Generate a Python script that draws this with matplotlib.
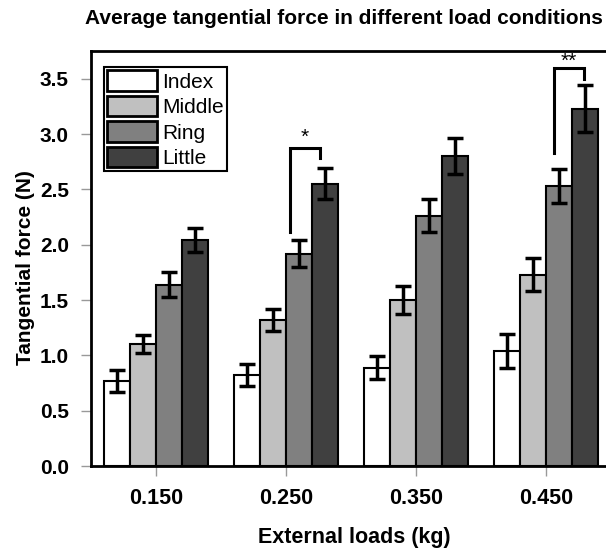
import matplotlib
matplotlib.use("Agg")
import matplotlib.pyplot as plt
import numpy as np

plt.rcParams['font.family'] = ['Liberation Sans', 'DejaVu Sans']

loads = ["0.150", "0.250", "0.350", "0.450"]
fingers = ["Index", "Middle", "Ring", "Little"]
means = {
    "Index":  [0.77, 0.82, 0.89, 1.04],
    "Middle": [1.10, 1.32, 1.50, 1.73],
    "Ring":   [1.64, 1.92, 2.26, 2.53],
    "Little": [2.04, 2.55, 2.80, 3.23],
}
errs = {
    "Index":  [0.10, 0.10, 0.10, 0.15],
    "Middle": [0.08, 0.10, 0.13, 0.15],
    "Ring":   [0.11, 0.12, 0.15, 0.15],
    "Little": [0.11, 0.14, 0.16, 0.21],
}
colors = ["#ffffff", "#c0c0c0", "#808080", "#404040"]
yticks = [0.0, 0.5, 1.0, 1.5, 2.0, 2.5, 3.0, 3.5]

fig = plt.figure(figsize=(6.06, 5.49), dpi=100)
ax = fig.add_axes([91/606, 1-466/549, 520/606, 415/549])

x = np.arange(len(loads))
w = 0.2
for i, f in enumerate(fingers):
    pos = x + (i - 1.5) * w
    ax.bar(pos, means[f], w, color=colors[i], edgecolor="black",
           linewidth=1.5, label=f, zorder=2)
    ax.errorbar(pos, means[f], yerr=errs[f], fmt="none", ecolor="black",
                elinewidth=2.5, capsize=5.5, capthick=2.5, zorder=3)

# significance brackets
def bracket(x1, x2, y_top, y1, y2, txt, ty):
    ax.plot([x1, x1, x2, x2], [y1, y_top, y_top, y2], color="black",
            lw=2.2, solid_joinstyle="miter", zorder=4)
    ax.text((x1 + x2) / 2, ty, txt, ha="center", va="center", fontsize=15)

bracket(1.03, 1.26, 2.875, 2.11, 2.78, "*", 2.97)
bracket(3.06, 3.29, 3.60, 2.83, 3.50, "**", 3.66)

ax.set_xlim(-0.5, 3.5)
ax.set_ylim(0, 3.75)
ax.set_xticks(x)
ax.set_xticklabels(loads, fontsize=15.5, fontweight="bold")
ax.set_yticks(yticks)
ax.set_yticklabels([f"{v:.1f}" for v in yticks], fontsize=15, fontweight="bold")
ax.tick_params(axis="both", direction="out", length=7, width=1, color="#999999")
ax.tick_params(axis="x", pad=9)
ax.tick_params(axis="y", pad=9)
for s in ax.spines.values():
    s.set_linewidth(2)

ax.set_xlabel("External loads (kg)", fontsize=15.5, fontweight="bold", va="center")
ax.xaxis.set_label_coords((354-91)/520, (466-537)/415)
ax.set_ylabel("Tangential force (N)", fontsize=15, fontweight="bold", va="center")
ax.yaxis.set_label_coords((25-91)/520, (466-268)/415)
fig.text(344/606, 1-19/549, "Average tangential force in different load conditions",
         ha="center", va="center", fontsize=15, fontweight="bold")

leg = ax.legend(loc="upper left", bbox_to_anchor=(13/520, 1-16/415), fontsize=15,
                frameon=True, fancybox=False, edgecolor="black", framealpha=1,
                handlelength=2.4, handleheight=1.15, labelspacing=0.2,
                handletextpad=0.25, borderpad=0.15, borderaxespad=0)
leg.get_frame().set_linewidth(1.5)
for p in leg.get_patches():
    p.set_linewidth(2)

fig.savefig("out.png", dpi=100)
